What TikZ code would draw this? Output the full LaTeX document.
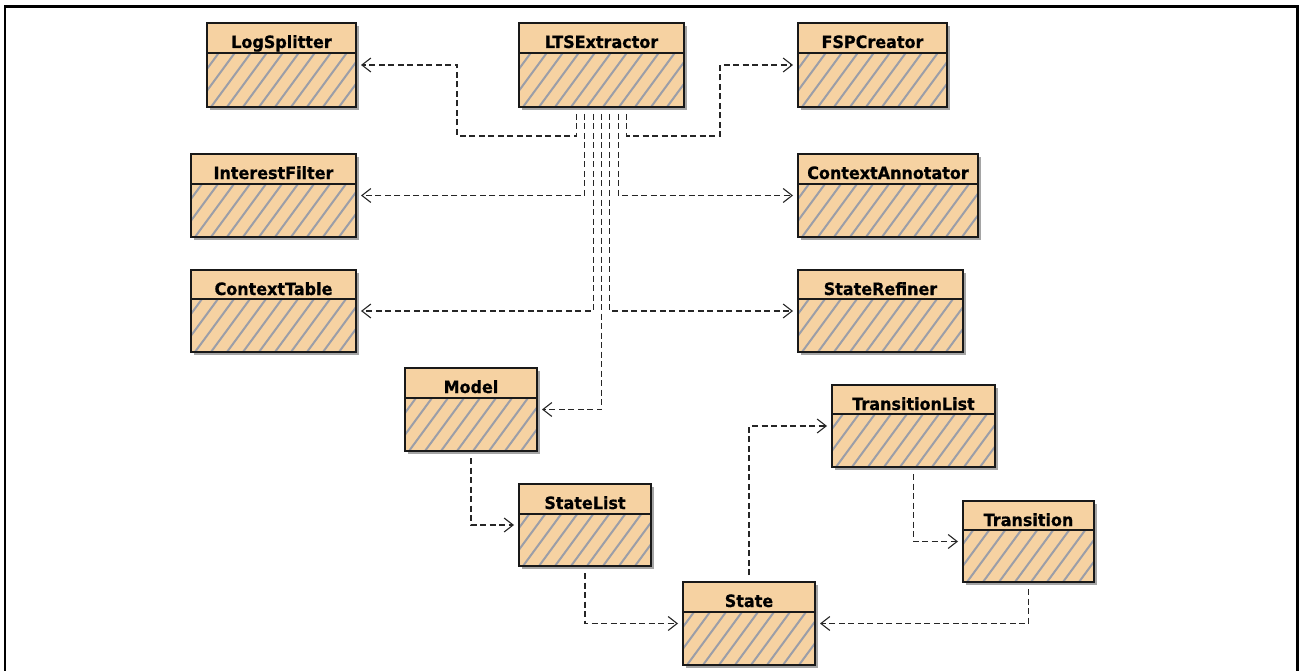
\documentclass[tikz,border=0pt]{standalone}
\usepackage{fontspec}
\setmainfont{DejaVu Sans}
\newfontfamily\hdrfont[FakeStretch=0.94,FakeBold=0.6]{DejaVu Sans Bold}
\usetikzlibrary{arrows.meta}
\definecolor{peach}{RGB}{246,210,162}
\definecolor{hatchc}{RGB}{155,158,168}
\definecolor{shadowc}{RGB}{165,165,165}
\tikzset{
  clsbox/.style={draw=black!90, line width=1.4pt, fill=peach, inner sep=0pt, outer sep=5pt},
  hatchline/.style={draw=hatchc, line width=2pt},
  clslabel/.style={font=\hdrfont\fontsize{17}{19}\selectfont, inner sep=0pt},
  dep/.style={draw=black!85, line width=1.2pt, dash pattern=on 6pt off 3.5pt, shorten <=2pt,
    -{Straight Barb[length=9pt,width=14pt,line width=1.1pt]}},
  frameline/.style={draw=black, line width=2.5pt}
}
% name, label, left, top, right, separator, bottom
\newcommand\umlclass[7]{%
  \fill[shadowc] (#3+3,#4+3) rectangle (#5+3,#7+3);
  \node[clsbox, minimum width={(#5-#3)*1pt}, minimum height={(#7-#4)*1pt},
    path picture={
      \begin{scope}
        \clip (path picture bounding box.south west) rectangle ([yshift={-(#6-#4)*1pt}]path picture bounding box.north east);
        \foreach \i in {-9,...,13}
          \draw[hatchline] ([xshift=\i*16pt+4pt]path picture bounding box.south west) -- ++(100pt,136pt);
      \end{scope}
      \draw[line width=1.3pt, black!90] ([yshift={-(#6-#4)*1pt}]path picture bounding box.north west) -- ([yshift={-(#6-#4)*1pt}]path picture bounding box.north east);
    }] (#1) at ({(#3+#5)/2},{(#4+#7)/2}) {};
  \node[clslabel, anchor=base] (#1-t) at ({(#3+#5)/2},#4+25) {#2};
}
\begin{document}
\begin{tikzpicture}[x=1pt,y=-1pt]
\useasboundingbox (0,0) rectangle (1300,671);
\draw[frameline] (5,672) -- (5,6.5) -- (1297.5,6.5) -- (1297.5,672);

\umlclass{logsplitter}{LogSplitter}{207}{23}{356}{53}{107}
\umlclass{lts}{LTSExtractor}{519}{23}{684}{53}{107}
\umlclass{fspcreator}{FSPCreator}{798}{23}{947}{53}{107}
\umlclass{interestfilter}{InterestFilter}{191}{154}{356}{184}{237}
\umlclass{contextannotator}{ContextAnnotator}{798}{154}{978}{184}{237}
\umlclass{contexttable}{ContextTable}{191}{270}{356}{299}{352}
\umlclass{staterefiner}{StateRefiner}{798}{270}{963}{299}{352}
\umlclass{model}{Model}{405}{368}{537}{398}{451}
\umlclass{statelist}{StateList}{519}{484}{651}{514}{566}
\umlclass{state}{State}{683}{582}{815}{612}{665}
\umlclass{transitionlist}{TransitionList}{832}{385}{995}{414}{467}
\umlclass{transition}{Transition}{963}{501}{1094}{530}{582}

\coordinate (bendL) at (457,136);
\coordinate (bendR) at (720,136);
\draw[dep] ([xshift=-25pt]lts.south) |- (bendL) |- (logsplitter.east);
\draw[dep] ([xshift=-16.7pt]lts.south) |- (interestfilter.east);
\draw[dep] ([xshift=-8.3pt]lts.south) |- (contexttable.east);
\draw[dep] ([xshift=0pt]lts.south) |- (model.east);
\draw[dep] ([xshift=8.3pt]lts.south) |- (staterefiner.west);
\draw[dep] ([xshift=16.7pt]lts.south) |- (contextannotator.west);
\draw[dep] ([xshift=25pt]lts.south) |- (bendR) |- (fspcreator.west);

\draw[dep] (model.south) |- (statelist.west);
\draw[dep] (statelist.south) |- (state.west);
\draw[dep] (state.north) |- (transitionlist.west);
\draw[dep] (transitionlist.south) |- (transition.west);
\draw[dep] (transition.south) |- (state.east);
\end{tikzpicture}
\end{document}
